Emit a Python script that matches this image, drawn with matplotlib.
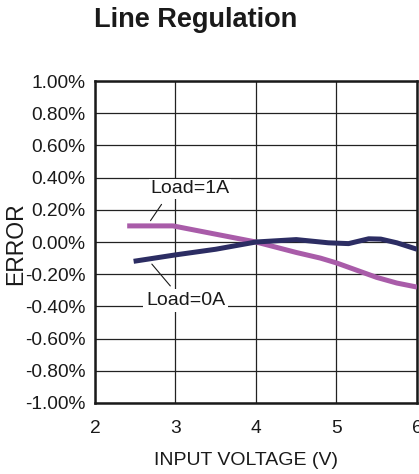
import matplotlib
matplotlib.use("Agg")
import matplotlib.pyplot as plt
from matplotlib.ticker import FuncFormatter

plt.rcParams["font.family"] = ["Liberation Sans", "DejaVu Sans"]

# input voltage (V) and error (%)
V_LOAD_1A = [2.4, 2.97, 4.0, 4.5, 4.8, 5.0, 5.25, 5.5, 5.75, 6.0]
ERR_LOAD_1A = [0.10, 0.10, 0.0, -0.065, -0.10, -0.13, -0.175, -0.22, -0.255, -0.28]

V_LOAD_0A = [2.48, 3.0, 3.5, 4.0, 4.5, 4.9, 5.15, 5.4, 5.55, 5.75, 6.0]
ERR_LOAD_0A = [-0.12, -0.08, -0.045, 0.0, 0.015, -0.005, -0.01, 0.02, 0.018, -0.005, -0.045]

X_TICKS = [2, 3, 4, 5, 6]
Y_TICKS = [1.0, 0.8, 0.6, 0.4, 0.2, 0.0, -0.2, -0.4, -0.6, -0.8, -1.0]

PURPLE = "#a95ca9"
NAVY = "#2c2d63"


def main():
    fig = plt.figure(figsize=(4.19, 4.74), dpi=100)
    ax = fig.add_axes([0.2267, 0.1498, 0.7685, 0.6793])

    ax.plot(V_LOAD_1A, ERR_LOAD_1A, color=PURPLE, lw=3.6, solid_capstyle="butt", zorder=3)
    ax.plot(V_LOAD_0A, ERR_LOAD_0A, color=NAVY, lw=3.6, solid_capstyle="butt", zorder=3)

    ax.set_xlim(2, 6)
    ax.set_ylim(-1.0, 1.0)
    ax.set_xticks(X_TICKS)
    ax.set_yticks(Y_TICKS)
    ax.yaxis.set_major_formatter(FuncFormatter(lambda v, p: f"{v:.2f}%"))
    ax.grid(True, color="#222222", lw=0.9)
    ax.set_axisbelow(True)
    ax.tick_params(length=0, labelsize=13.8, colors="#1a1a1a")
    ax.tick_params(axis="x", pad=12)
    ax.tick_params(axis="y", pad=7)
    for s in ax.spines.values():
        s.set_linewidth(1.8)
        s.set_color("#1a1a1a")

    # labels with leader lines
    ax.annotate("", xy=(2.846, 0.248), xytext=(2.67, 0.118),
                arrowprops=dict(arrowstyle="-", lw=0.8, color="#1a1a1a"))
    ax.text(3.18, 0.33, "Load=1A", fontsize=14, ha="center", va="center", color="#1a1a1a",
            bbox=dict(fc="white", ec="none", pad=1), zorder=4)
    ax.annotate("", xy=(2.958, -0.286), xytext=(2.684, -0.124),
                arrowprops=dict(arrowstyle="-", lw=0.8, color="#1a1a1a"))
    ax.text(3.125, -0.363, "Load=0A", fontsize=14, ha="center", va="center", color="#1a1a1a",
            bbox=dict(fc="white", ec="none", pad=2), zorder=4)

    fig.text(0.468, 0.957, "Line Regulation", fontsize=19.5, fontweight="bold",
             ha="center", va="center", color="#1a1a1a")
    fig.text(0.038, 0.485, "ERROR", fontsize=16.5, rotation=90, ha="center", va="center",
             color="#1a1a1a")
    fig.text(0.587, 0.029, "INPUT VOLTAGE (V)", fontsize=14, ha="center", va="center",
             color="#1a1a1a")

    fig.savefig("out.png", dpi=100)


if __name__ == "__main__":
    main()
